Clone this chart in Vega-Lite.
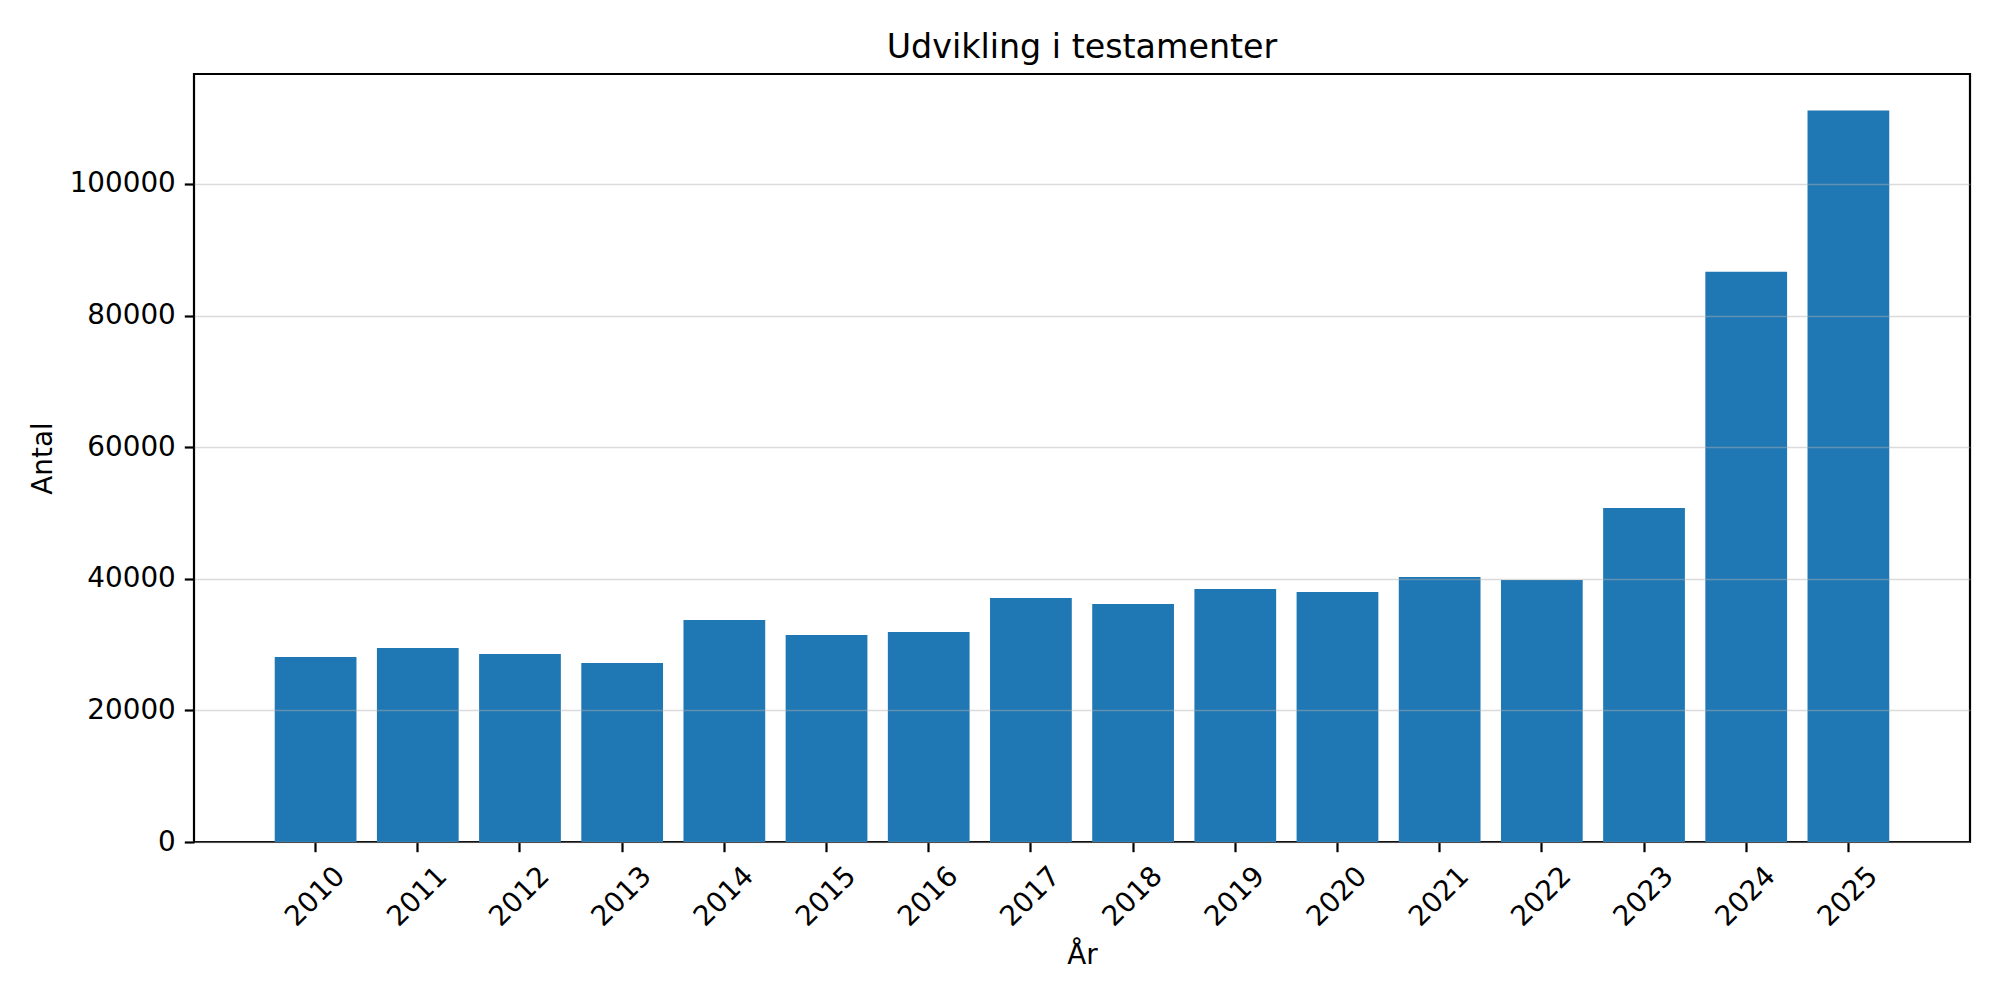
{
  "$schema": "https://vega.github.io/schema/vega-lite/v6.json",
  "autosize": {"type": "none"},
  "padding": {"left": 194, "top": 74, "right": 30, "bottom": 158},
  "width": 1776,
  "height": 768,
  "background": "white",
  "title": {
    "text": "Udvikling i testamenter",
    "font": "DejaVu Sans",
    "fontSize": 33.3,
    "fontWeight": "normal",
    "color": "black",
    "anchor": "middle",
    "baseline": "alphabetic",
    "offset": -17
  },
  "config": {
    "view": {"stroke": "black", "strokeWidth": 2.2},
    "font": "DejaVu Sans"
  },
  "data": {
    "values": [
      {"year": "2010", "antal": 28110},
      {"year": "2011", "antal": 29480},
      {"year": "2012", "antal": 28560},
      {"year": "2013", "antal": 27190},
      {"year": "2014", "antal": 33730},
      {"year": "2015", "antal": 31450},
      {"year": "2016", "antal": 31900},
      {"year": "2017", "antal": 37080},
      {"year": "2018", "antal": 36170},
      {"year": "2019", "antal": 38450},
      {"year": "2020", "antal": 37990},
      {"year": "2021", "antal": 40270},
      {"year": "2022", "antal": 39820},
      {"year": "2023", "antal": 50770},
      {"year": "2024", "antal": 86660},
      {"year": "2025", "antal": 111150}
    ]
  },
  "mark": {"type": "bar", "color": "#1f77b4"},
  "encoding": {
    "x": {
      "field": "year",
      "type": "ordinal",
      "scale": {"paddingInner": 0.2, "paddingOuter": 0.79},
      "axis": {
        "title": "År",
        "titleFont": "DejaVu Sans",
        "titleFontSize": 27.8,
        "titleFontWeight": "normal",
        "titleColor": "black",
        "titleBaseline": "alphabetic",
        "titleY": 121,
        "labelFont": "DejaVu Sans",
        "labelFontSize": 27.8,
        "labelColor": "black",
        "labelAngle": -45,
        "labelAlign": "center",
        "labelBaseline": "middle",
        "labelPadding": 45,
        "tickSize": 9.7,
        "tickWidth": 2.2,
        "tickColor": "black",
        "domain": false,
        "grid": false
      }
    },
    "y": {
      "field": "antal",
      "type": "quantitative",
      "scale": {"domain": [0, 116700], "nice": false},
      "axis": {
        "title": "Antal",
        "titleFont": "DejaVu Sans",
        "titleFontSize": 27.8,
        "titleFontWeight": "normal",
        "titleColor": "black",
        "titleBaseline": "alphabetic",
        "titleAngle": -90,
        "titleX": -143,
        "values": [0, 20000, 40000, 60000, 80000, 100000],
        "format": "d",
        "labelFont": "DejaVu Sans",
        "labelFontSize": 27.8,
        "labelColor": "black",
        "labelPadding": 9,
        "labelBaseline": "middle",
        "tickSize": 9.7,
        "tickWidth": 2.2,
        "tickColor": "black",
        "domain": false,
        "grid": true,
        "gridColor": "#b0b0b0",
        "gridOpacity": 0.45,
        "gridWidth": 1.5,
        "zindex": 1
      }
    }
  }
}
